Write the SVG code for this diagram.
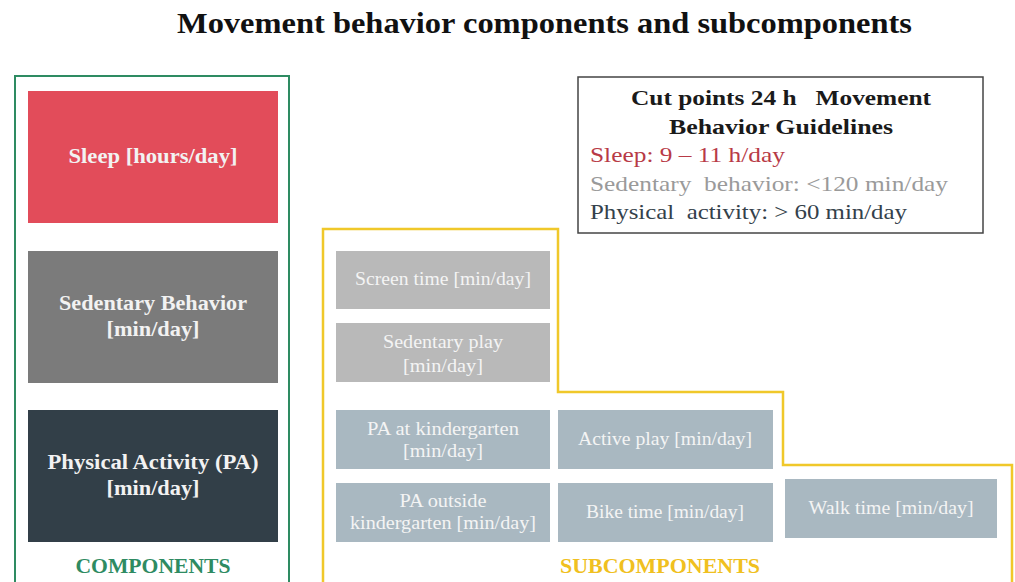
<svg xmlns="http://www.w3.org/2000/svg" width="1015" height="582" viewBox="0 0 1015 582">
<style>
text{font-family:"Liberation Serif","DejaVu Serif",serif;}
.title{font-size:29px;font-weight:bold;fill:#111;}
.comp{font-size:20px;font-weight:bold;fill:#f2f2f2;text-anchor:middle;}
.sub{font-size:18px;fill:#f4f4f4;text-anchor:middle;}
.lbl{font-size:20px;font-weight:bold;text-anchor:middle;}
.cut{font-size:22px;font-weight:bold;fill:#1a1a1a;text-anchor:middle;white-space:pre;}
.cl{font-size:22px;white-space:pre;}
.sedsub{fill:#b9b9b9;}
.pasub{fill:#a9b8c1;}
</style>
<rect width="1015" height="582" fill="#ffffff"/>
<text class="title" x="177" y="33" textLength="735" lengthAdjust="spacingAndGlyphs">Movement behavior components and subcomponents</text>

<g id="frames">
<path d="M15 590 V76 H289 V590" fill="none" stroke="#2e8b62" stroke-width="2"/>
<path d="M323 590 V229 H558 V392 H783 V465 H1012 V590" fill="none" stroke="#f0c82a" stroke-width="2.5"/>
</g>

<g id="sleep"><rect x="28" y="91" width="250" height="132" fill="#e24c5a"/>
<text class="comp" x="153" y="163" textLength="169" lengthAdjust="spacingAndGlyphs">Sleep [hours/day]</text></g>
<g id="sedentary"><rect x="28" y="251" width="250" height="132" fill="#7b7b7b"/>
<text class="comp" x="153" y="310" textLength="188" lengthAdjust="spacingAndGlyphs">Sedentary Behavior</text>
<text class="comp" x="153" y="336" textLength="93" lengthAdjust="spacingAndGlyphs">[min/day]</text></g>
<g id="pa"><rect x="28" y="410" width="250" height="132" fill="#323f48"/>
<text class="comp" x="153" y="469" textLength="211" lengthAdjust="spacingAndGlyphs">Physical Activity (PA)</text>
<text class="comp" x="153" y="495" textLength="93" lengthAdjust="spacingAndGlyphs">[min/day]</text></g>
<text class="lbl" x="153" y="573" fill="#2e8b62" textLength="155" lengthAdjust="spacingAndGlyphs">COMPONENTS</text>

<g id="screen"><rect class="sedsub" x="336" y="251" width="214" height="58"/>
<text class="sub" x="443" y="285" textLength="176" lengthAdjust="spacingAndGlyphs">Screen time [min/day]</text></g>
<g id="sedplay"><rect class="sedsub" x="336" y="323" width="214" height="59"/>
<text class="sub" x="443" y="348" textLength="120" lengthAdjust="spacingAndGlyphs">Sedentary play</text>
<text class="sub" x="443" y="372" textLength="80" lengthAdjust="spacingAndGlyphs">[min/day]</text></g>
<g id="pakg"><rect class="pasub" x="336" y="410" width="214" height="59"/>
<text class="sub" x="443" y="435" textLength="152" lengthAdjust="spacingAndGlyphs">PA at kindergarten</text>
<text class="sub" x="443" y="457" textLength="80" lengthAdjust="spacingAndGlyphs">[min/day]</text></g>
<g id="activeplay"><rect class="pasub" x="558" y="410" width="215" height="59"/>
<text class="sub" x="665" y="445" textLength="174" lengthAdjust="spacingAndGlyphs">Active play [min/day]</text></g>
<g id="paout"><rect class="pasub" x="336" y="483" width="214" height="59"/>
<text class="sub" x="443" y="507" textLength="87" lengthAdjust="spacingAndGlyphs">PA outside</text>
<text class="sub" x="443" y="529" textLength="186" lengthAdjust="spacingAndGlyphs">kindergarten [min/day]</text></g>
<g id="bike"><rect class="pasub" x="558" y="483" width="215" height="59"/>
<text class="sub" x="665" y="518" textLength="158" lengthAdjust="spacingAndGlyphs">Bike time [min/day]</text></g>
<g id="walk"><rect class="pasub" x="785" y="479" width="212" height="59"/>
<text class="sub" x="891" y="514" textLength="165" lengthAdjust="spacingAndGlyphs">Walk time [min/day]</text></g>
<text class="lbl" x="660" y="573" fill="#f0c020" textLength="200" lengthAdjust="spacingAndGlyphs">SUBCOMPONENTS</text>

<g id="cutpoints"><rect x="578" y="77" width="405" height="156" fill="#fff" stroke="#444" stroke-width="1.5"/>
<text class="cut" x="781" y="105" textLength="300" lengthAdjust="spacingAndGlyphs">Cut points 24 h   Movement</text>
<text class="cut" x="781" y="134" textLength="224" lengthAdjust="spacingAndGlyphs">Behavior Guidelines</text>
<text class="cl" x="590" y="162" fill="#b83a46" textLength="195" lengthAdjust="spacingAndGlyphs">Sleep: 9 – 11 h/day</text>
<text class="cl" x="590" y="191" fill="#9a9a9a" textLength="358" lengthAdjust="spacingAndGlyphs">Sedentary  behavior: &lt;120 min/day</text>
<text class="cl" x="590" y="219" fill="#34414b" textLength="317" lengthAdjust="spacingAndGlyphs">Physical  activity: &gt; 60 min/day</text></g>
</svg>
